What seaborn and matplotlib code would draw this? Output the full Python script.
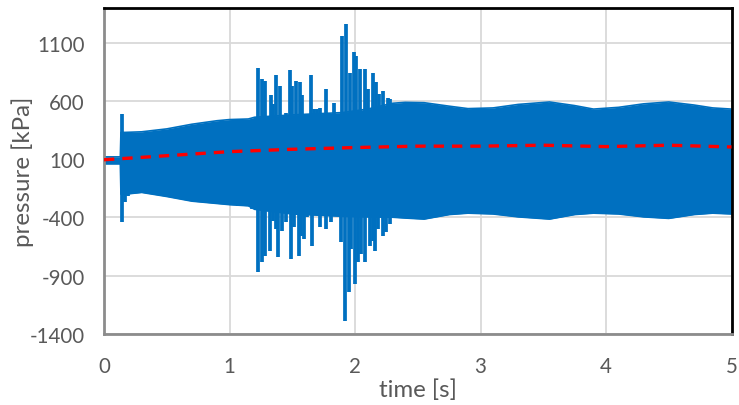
import numpy as np
import pandas as pd
import matplotlib
matplotlib.use("Agg")
import matplotlib.pyplot as plt
import seaborn as sns

# ---- data ----
# envelope of the dense oscillation (time [s], upper / lower pressure [kPa])
env_t = [0.00, 0.13, 0.135, 0.17, 0.30, 0.50, 0.70, 0.90, 1.00, 1.15, 1.20, 1.50, 1.90, 2.10, 2.30,
         2.40, 2.55, 2.75, 2.90, 3.10, 3.30, 3.55, 3.75, 3.90, 4.10, 4.30, 4.50, 4.70, 4.85, 5.00]
env_upper = [120, 120, 330, 330, 335, 360, 400, 430, 440, 445, 460, 480, 500, 530, 580,
             588, 585, 555, 534, 540, 570, 591, 560, 530, 545, 575, 591, 565, 540, 530]
env_lower = [60, 60, -200, -200, -185, -220, -260, -280, -290, -300, -330, -370, -390, -395, -398,
             -405, -414, -375, -363, -370, -395, -414, -375, -363, -370, -395, -408, -375, -363, -370]

# individual upward spikes (time, peak)
up_t = [0.14, 0.17, 1.22, 1.23, 1.26, 1.28, 1.33, 1.35, 1.37, 1.40, 1.43, 1.45, 1.48, 1.50, 1.53, 1.56,
        1.58, 1.61, 1.65, 1.67, 1.70, 1.72, 1.77, 1.80, 1.83, 1.87, 1.90, 1.93, 1.96, 1.99, 2.01,
        2.04, 2.08, 2.10, 2.14, 2.17, 2.19, 2.22, 2.26, 2.28]
up_v = [485, 330, 445, 886, 785, 771, 648, 571, 820, 728, 443, 500, 865, 728, 771, 763,
        648, 485, 820, 528, 528, 543, 706, 434, 586, 405, 1157, 1257, 843, 1020, 985,
        871, 877, 700, 837, 763, 657, 686, 628, 620]
# individual downward spikes (time, trough)
dn_t = [0.14, 0.17, 0.19, 1.07, 1.18, 1.23, 1.26, 1.28, 1.32, 1.35, 1.37, 1.39, 1.42, 1.45, 1.49, 1.51,
        1.55, 1.57, 1.59, 1.62, 1.66, 1.69, 1.72, 1.77, 1.81, 1.86, 1.89, 1.92, 1.95, 1.97,
        2.00, 2.02, 2.05, 2.08, 2.12, 2.14, 2.16, 2.18, 2.22, 2.25, 2.28]
dn_v = [-440, -270, -217, -305, -330, -871, -786, -729, -686, -429, -500, -743, -514, -443, -757, -486,
        -729, -557, -586, -400, -643, -357, -486, -500, -443, -371, -614, -1286, -1043, -671,
        -971, -786, -714, -786, -643, -600, -686, -500, -557, -529, -457]

# mean pressure (red dashed line)
mean_t = [0.0, 0.5, 1.0, 1.5, 2.0, 2.5, 3.0, 3.5, 4.0, 4.5, 5.0]
mean_v = [95, 130, 165, 185, 200, 212, 212, 220, 208, 220, 205]

x_ticks = [0, 1, 2, 3, 4, 5]
y_ticks = [-1400, -900, -400, 100, 600, 1100]

# ---- plotting ----
sns.set_theme(style="white")
plt.rcParams['font.family'] = ['Lato', 'DejaVu Sans']
plt.rcParams['axes.unicode_minus'] = False

fig = plt.figure(figsize=(7.39, 4.06), dpi=100)
ax = fig.add_axes([104 / 739, 1 - 335 / 406, (731.5 - 104) / 739, (335 - 8.7) / 406])

blue = "#0070C0"
env = pd.DataFrame({"t": env_t, "upper": env_upper, "lower": env_lower})
ax.fill_between(env["t"], env["lower"], env["upper"], color=blue, linewidth=0, zorder=2)
sns.lineplot(data=env, x="t", y="upper", color=blue, linewidth=1.2, ax=ax, zorder=2)
sns.lineplot(data=env, x="t", y="lower", color=blue, linewidth=1.2, ax=ax, zorder=2)

ax.vlines(up_t, 100, up_v, color=blue, linewidth=2.7, zorder=2)
ax.vlines(dn_t, 100, dn_v, color=blue, linewidth=2.7, zorder=2)

mean_df = pd.DataFrame({"t": mean_t, "p": mean_v})
sns.lineplot(data=mean_df, x="t", y="p", color="#FF0000", linewidth=2.4,
             linestyle=(0, (3.1, 2.4)), ax=ax, zorder=3)

ax.set_xlim(0, 5)
ax.set_ylim(-1400, 1400)
ax.set_xticks(x_ticks)
ax.set_yticks(y_ticks)
ax.grid(True, color="#d9d9d9", linewidth=1.3, zorder=0)
ax.set_axisbelow(True)

for side in ["top", "right"]:
    ax.spines[side].set_color("black")
    ax.spines[side].set_linewidth(2.0)
for side in ["left", "bottom"]:
    ax.spines[side].set_color("#8c8c8c")
    ax.spines[side].set_linewidth(2.0)

ax.tick_params(axis="both", length=0, labelsize=14.8, labelcolor="#595959")
ax.tick_params(axis="x", pad=16)
ax.tick_params(axis="y", pad=14)
ax.set_xlabel("time [s]", fontsize=17.3, color="#595959")
ax.set_ylabel("pressure [kPa]", fontsize=17.3, color="#595959")
ax.xaxis.set_label_coords(0.5, -0.135)
ax.yaxis.set_label_coords(-0.112, 0.5)

fig.savefig("out.png", dpi=100)
